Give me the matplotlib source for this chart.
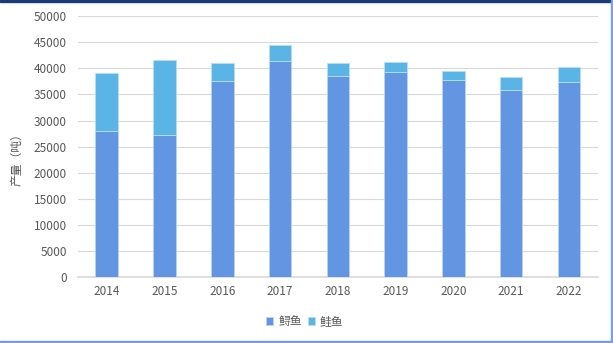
import matplotlib
matplotlib.use('Agg')
import matplotlib.pyplot as plt
from matplotlib.patches import Rectangle

plt.rcParams['font.family'] = ['Noto Sans CJK SC', 'DejaVu Sans']

years = ['2014', '2015', '2016', '2017', '2018', '2019', '2020', '2021', '2022']
sturgeon = [28000, 27300, 37600, 41400, 38600, 39300, 37800, 35900, 37300]  # 鲟鱼
salmon = [11100, 14200, 3400, 3100, 2400, 2000, 1700, 2400, 2900]  # 鲑鱼
yticks = [0, 5000, 10000, 15000, 20000, 25000, 30000, 35000, 40000, 45000, 50000]

c_sturgeon = '#6396e2'
c_salmon = '#5ab4e6'
grey = '#595959'

fig = plt.figure(figsize=(6.13, 3.43), dpi=100)
ax = fig.add_axes([0.127, 0.192, 0.848, 0.761])

x = range(len(years))
ax.bar(x, sturgeon, width=0.39, color=c_sturgeon, edgecolor='#b8d4f4', linewidth=0.6,
       label='鲟鱼', zorder=3)
ax.bar(x, salmon, width=0.39, bottom=sturgeon, color=c_salmon, edgecolor='#b8e0f4',
       linewidth=0.6, label='鲑鱼', zorder=3)

ax.set_ylim(0, 50000)
ax.set_xlim(-0.5, len(years) - 0.5)
ax.set_yticks(yticks)
ax.set_xticks(list(x))
ax.set_xticklabels(years)
ax.tick_params(length=0, labelsize=8.5, colors=grey, pad=6)
ax.tick_params(axis='y', pad=8)
ax.grid(axis='y', color='#d9d9d9', linewidth=0.8, zorder=0)
for s in ['top', 'right', 'left']:
    ax.spines[s].set_visible(False)
ax.spines['bottom'].set_color('#d9d9d9')
ax.spines['bottom'].set_linewidth(1.2)

ax.set_ylabel('产量（吨）', fontsize=8.5, color=grey)
ax.yaxis.set_label_coords(-0.105, 0.46)

leg = fig.legend(loc='center', bbox_to_anchor=(0.497, 0.062), ncol=2, frameon=False,
                 fontsize=8.5, handlelength=0.6, handleheight=0.6, handletextpad=0.4,
                 columnspacing=0.5)
for t in leg.get_texts():
    t.set_color(grey)

# frame decorations
fig.patches.append(Rectangle((0, 0.994), 1, 0.006, transform=fig.transFigure,
                             color='#1a3a7a', zorder=0))
fig.patches.append(Rectangle((0.9965, 0), 0.0035, 1, transform=fig.transFigure,
                             color='#7aa2e0', zorder=0))
fig.patches.append(Rectangle((0, 0), 1, 0.006, transform=fig.transFigure,
                             color='#7a9ad8', zorder=0))

fig.savefig('out.png', dpi=100)
